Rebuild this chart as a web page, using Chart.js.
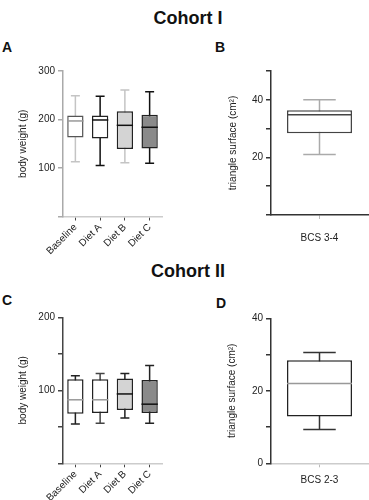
<!DOCTYPE html>
<html>
<head>
<meta charset="utf-8">
<script src="https://cdn.jsdelivr.net/npm/chart.js@4"></script>
<style>
  body { margin: 0; background: #fff; width: 369px; height: 500px; position: relative; overflow: hidden;
         font-family: 'Liberation Sans', Arial, sans-serif; color: #111; }
  .title { position: absolute; left: 0; width: 376px; text-align: center; font-weight: bold; font-size: 18px; line-height: 18px; }
  .letter { position: absolute; font-weight: bold; font-size: 14px; line-height: 14px; }
  .panel { position: absolute; }
  .panel canvas { display: block; }
</style>
</head>
<body>
<div class="title" style="top:9px">Cohort I</div>
<div class="title" style="top:262px">Cohort II</div>
<div class="letter" style="left:2px;top:40px">A</div>
<div class="letter" style="left:215px;top:40px">B</div>
<div class="letter" style="left:2px;top:293px">C</div>
<div class="letter" style="left:216px;top:296px">D</div>

<div class="panel" style="left:0;top:55px"><canvas id="chartA" width="170" height="200"></canvas></div>
<div class="panel" style="left:185px;top:55px"><canvas id="chartB" width="184" height="200"></canvas></div>
<div class="panel" style="left:0;top:305px"><canvas id="chartC" width="170" height="195"></canvas></div>
<div class="panel" style="left:185px;top:305px"><canvas id="chartD" width="184" height="195"></canvas></div>

<script>
const groups = ['Baseline', 'Diet A', 'Diet B', 'Diet C'];

// Cohort I - body weight (g)
const c1Min    = [113, 105, 111, 110];
const c1Q1     = [163, 161, 139, 140];
const c1Median = [197, 199, 188, 184];
const c1Q3     = [208, 208, 217, 210];
const c1Max    = [249, 248, 261, 257];

// Cohort I - triangle surface (cm2)
const bcsI      = ['BCS 3-4'];
const triIMin    = [21.0];
const triIQ1     = [28.4];
const triIMedian = [34.8];
const triIQ3     = [36.4];
const triIMax    = [40.0];

// Cohort II - body weight (g)
const c2Min    = [54, 55, 62, 55];
const c2Q1     = [68, 69, 73, 69];
const c2Median = [87, 87, 95, 81];
const c2Q3     = [115, 115, 116, 114];
const c2Max    = [120, 123, 123, 134];

// Cohort II - triangle surface (cm2)
const bcsII       = ['BCS 2-3'];
const triIIMin    = [9.3];
const triIIQ1     = [12.9];
const triIIMedian = [22.0];
const triIIQ3     = [28.4];
const triIIMax    = [30.6];

// labelled y ticks per panel
const ticksA = [100, 200, 300];
const ticksB = [20, 40];
const ticksC = [100, 200];
const ticksD = [0, 20, 40];

Chart.defaults.font.family = "'Liberation Sans', Arial, sans-serif";
Chart.defaults.font.size = 10;
Chart.defaults.color = '#222';

// whiskers + median drawn on top of floating bars (the boxes)
function whiskerPlugin(mins, medians, maxs, st) {
  return {
    id: 'whiskers',
    beforeDatasetsDraw(chart) {
      const y = chart.scales.y, ctx = chart.ctx;
      chart.getDatasetMeta(0).data.forEach((bar, i) => {
        const half = bar.width * st.cap / 2;
        const yTop = y.getPixelForValue(maxs[i]);
        const yBot = y.getPixelForValue(mins[i]);
        ctx.save();
        ctx.strokeStyle = st.whisker[i];
        ctx.lineWidth = 1.5;
        ctx.beginPath();
        ctx.moveTo(bar.x, yTop); ctx.lineTo(bar.x, yBot);
        ctx.moveTo(bar.x - half, yTop); ctx.lineTo(bar.x + half, yTop);
        ctx.moveTo(bar.x - half, yBot); ctx.lineTo(bar.x + half, yBot);
        ctx.stroke();
        ctx.restore();
      });
    },
    afterDatasetsDraw(chart) {
      const y = chart.scales.y, ctx = chart.ctx;
      chart.getDatasetMeta(0).data.forEach((bar, i) => {
        const ym = y.getPixelForValue(medians[i]);
        ctx.save();
        ctx.strokeStyle = st.median[i];
        ctx.lineWidth = 1.5;
        ctx.beginPath();
        ctx.moveTo(bar.x - bar.width / 2, ym);
        ctx.lineTo(bar.x + bar.width / 2, ym);
        ctx.stroke();
        ctx.restore();
      });
    }
  };
}

function boxChart(id, labels, mins, q1s, medians, q3s, maxs, st) {
  return new Chart(document.getElementById(id), {
    type: 'bar',
    data: {
      labels: labels,
      datasets: [{
        data: q1s.map((q, i) => [q, q3s[i]]),
        backgroundColor: st.fills,
        borderColor: st.borders,
        borderWidth: 1.5,
        borderSkipped: false,
        barPercentage: st.barPct,
        categoryPercentage: 1
      }]
    },
    options: {
      responsive: false,
      animation: false,
      layout: { padding: st.padding },
      plugins: { legend: { display: false }, tooltip: { enabled: false } },
      scales: {
        x: {
          grid: { drawOnChartArea: false, offset: false, tickLength: 4, color: st.xTick, lineWidth: 1 },
          border: { color: st.xAxis, width: 1.5 },
          ticks: { autoSkip: false, minRotation: st.rot, maxRotation: st.rot, padding: st.xPad, color: '#222' },
          afterFit: s => { s.height = st.xHeight; }
        },
        y: {
          min: st.min, max: st.max,
          ticks: { stepSize: st.step, padding: 3, color: '#222',
                   callback: v => st.shown.includes(v) ? v : '' },
          grid: { drawOnChartArea: false, tickLength: 5, color: st.yAxis, lineWidth: 1.5 },
          border: { color: st.yAxis, width: 1.5 },
          title: { display: true, text: st.yTitle, color: '#222', padding: 0 },
          afterFit: s => { s.width = st.yWidth; }
        }
      }
    },
    plugins: [whiskerPlugin(mins, medians, maxs, st)]
  });
}

boxChart('chartA', groups, c1Min, c1Q1, c1Median, c1Q3, c1Max, {
  fills: ['#ffffff', '#ffffff', '#d4d4d4', '#8a8a8a'],
  borders: ['#555', '#222', '#222', '#222'],
  whisker: ['#c4c4c4', '#111', '#c4c4c4', '#111'],
  median: ['#999', '#111', '#111', '#111'],
  cap: 0.55, barPct: 0.66,
  padding: { left: 17, top: 16, right: 8, bottom: 0 },
  yWidth: 46, xHeight: 38.5, rot: 45, xPad: 1,
  min: 0, max: 300, step: 100, shown: ticksA,
  yTitle: 'body weight (g)', yAxis: '#aaa', xAxis: '#ccc', xTick: '#444'
});

boxChart('chartB', bcsI, triIMin, triIQ1, triIMedian, triIQ3, triIMax, {
  fills: ['#ffffff'], borders: ['#444'],
  whisker: ['#aaa'], median: ['#444'],
  cap: 0.5, barPct: 0.67,
  padding: { left: 42, top: 16, right: 1, bottom: 0 },
  yWidth: 44, xHeight: 40, rot: 0, xPad: 13,
  min: 0, max: 50, step: 10, shown: ticksB,
  yTitle: 'triangle surface (cm²)', yAxis: '#333', xAxis: '#333', xTick: '#bbb'
});

boxChart('chartC', groups, c2Min, c2Q1, c2Median, c2Q3, c2Max, {
  fills: ['#ffffff', '#ffffff', '#d4d4d4', '#8a8a8a'],
  borders: ['#222', '#222', '#222', '#222'],
  whisker: ['#222', '#444', '#222', '#222'],
  median: ['#999', '#999', '#111', '#111'],
  cap: 0.55, barPct: 0.66,
  padding: { left: 17, top: 12.3, right: 8, bottom: 0 },
  yWidth: 46, xHeight: 36.7, rot: 45, xPad: 1,
  min: 0, max: 200, step: 50, shown: ticksC,
  yTitle: 'body weight (g)', yAxis: '#444', xAxis: '#ccc', xTick: '#444'
});

boxChart('chartD', bcsII, triIIMin, triIIQ1, triIIMedian, triIIQ3, triIIMax, {
  fills: ['#ffffff'], borders: ['#222'],
  whisker: ['#333'], median: ['#999'],
  cap: 0.5, barPct: 0.67,
  padding: { left: 41, top: 13.3, right: 1, bottom: 0 },
  yWidth: 45, xHeight: 36.7, rot: 0, xPad: 7,
  min: 0, max: 40, step: 10, shown: ticksD,
  yTitle: 'triangle surface (cm²)', yAxis: '#333', xAxis: '#ccc', xTick: '#bbb'
});
</script>
</body>
</html>
